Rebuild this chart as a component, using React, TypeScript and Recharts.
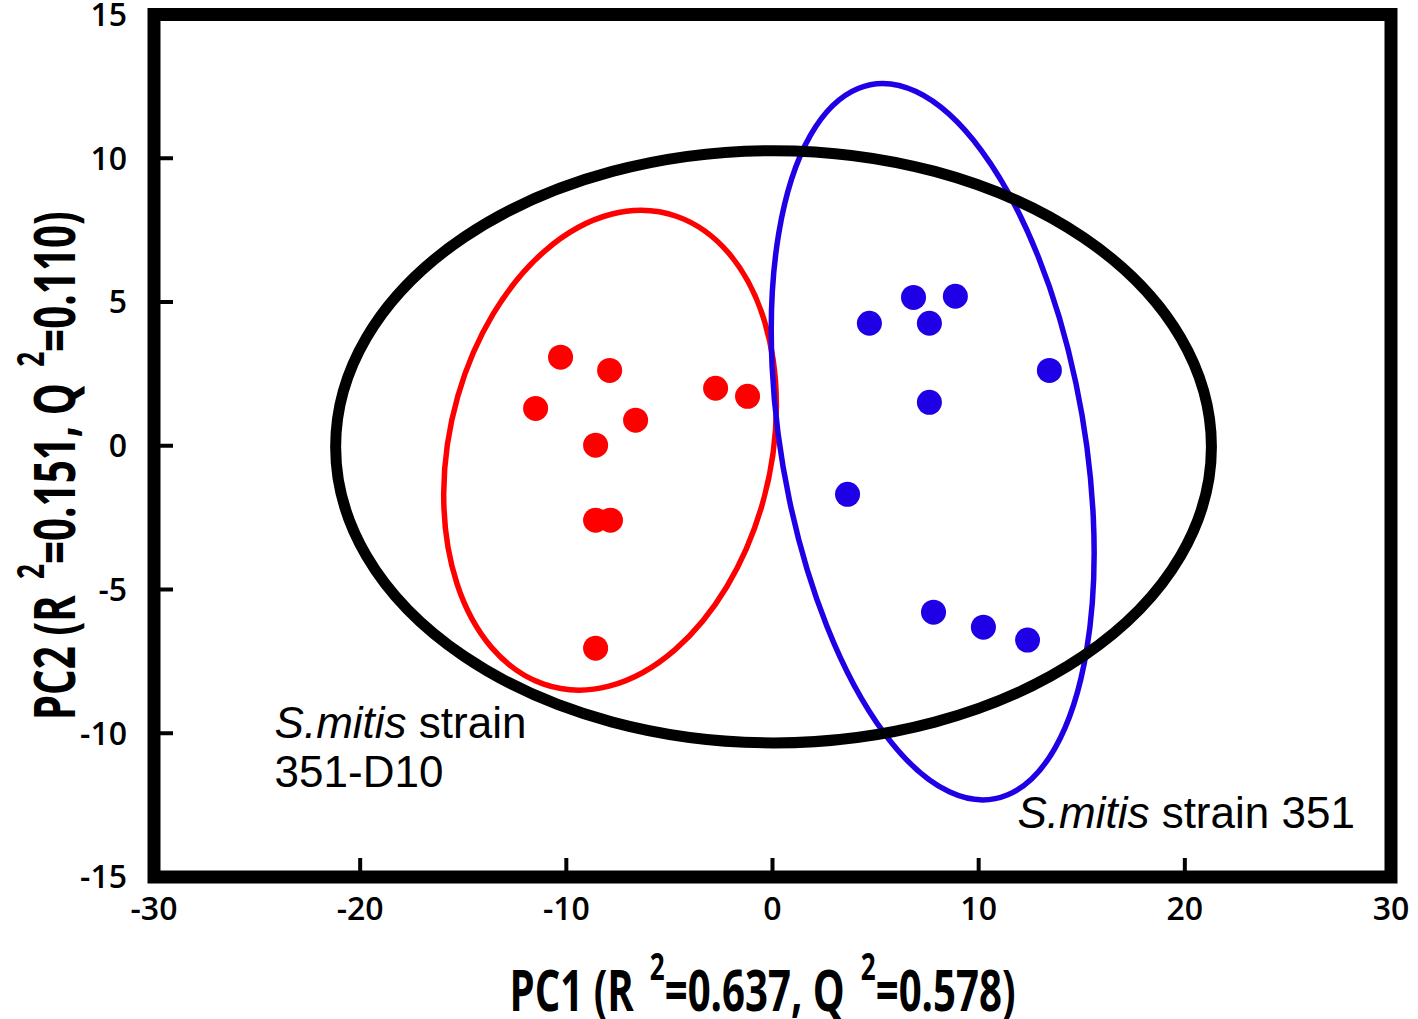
import React from "react";
import { ScatterChart, Scatter, XAxis, YAxis, ReferenceArea, ReferenceDot } from "recharts";

// axis ticks
const xTicks = [-30, -20, -10, 0, 10, 20, 30];
const yTicks = [-15, -10, -5, 0, 5, 10, 15];

// S.mitis strain 351-D10 (red)
const redPC1 = [-11.49, -10.28, -7.9, -6.64, -8.58, -8.58, -7.86, -8.58, -2.76, -1.21];
const redPC2 = [1.3, 3.08, 2.62, 0.89, 0.02, -2.59, -2.59, -7.04, 2.0, 1.72];

// S.mitis strain 351 (blue)
const bluePC1 = [4.7, 6.84, 7.61, 8.87, 13.43, 7.61, 3.64, 7.81, 10.23, 12.37];
const bluePC2 = [4.26, 5.16, 4.26, 5.2, 2.62, 1.51, -1.69, -5.79, -6.31, -6.76];

// confidence ellipses: 351-D10, 351, whole model (data units, angle in degrees)
const ellipseCx = [-7.88, 7.77, 0.05];
const ellipseCy = [-0.155, 0.14, -0.035];
const ellipseA = [8.95, 12.81, 21.24];
const ellipseB = [7.39, 7.24, 10.3];
const ellipseAngle = [50.1, -73.6, 0];

const ellipseColors = ["#ff0000", "#1f00e6", "#000000"];
const ellipseWidths = [5.5, 5.5, 11];

const redData = redPC1.map((x, i) => ({ x, y: redPC2[i] }));
const blueData = bluePC1.map((x, i) => ({ x, y: bluePC2[i] }));

const tickFont = { fontFamily: "'Open Sans', sans-serif", fontSize: 32, fontWeight: 600, fill: "#000" };
const titleFont = "'Open Sans', sans-serif";
const annoFont = "'Liberation Sans', Arial, sans-serif";

const dot = (color: string) => (p: any) => <circle cx={p.cx} cy={p.cy} r={12.5} fill={color} />;

// area spans +-1 unit around the centre, so its pixel size gives the scale
const ellipseShape = (i: number) => (p: any) => {
  const sx = p.width / 2;
  const sy = p.height / 2;
  const px = p.x + sx;
  const py = p.y + sy;
  return (
    <ellipse
      cx={0}
      cy={0}
      rx={ellipseA[i]}
      ry={ellipseB[i]}
      transform={`translate(${px},${py}) scale(${sx},${-sy}) rotate(${ellipseAngle[i]})`}
      fill="none"
      stroke={ellipseColors[i]}
      strokeWidth={ellipseWidths[i]}
      vectorEffect="non-scaling-stroke"
    />
  );
};

const XTitle = (props: any) => {
  const vb = props.viewBox;
  const cx = vb.x + vb.width / 2 - 10;
  return (
    <text x={cx} y={vb.y + 134} textAnchor="middle" fontFamily={titleFont} fontWeight={700} fontSize={57}
      textLength={506} lengthAdjust="spacingAndGlyphs" fill="#000">
      <tspan>PC1 (R </tspan>
      <tspan fontSize={37} dx={8} dy={-31}>2</tspan>
      <tspan dy={31}>=0.637, Q </tspan>
      <tspan fontSize={37} dx={8} dy={-31}>2</tspan>
      <tspan dy={31}>=0.578)</tspan>
    </text>
  );
};

const YTitle = (props: any) => {
  const vb = props.viewBox;
  const x = vb.x + 75;
  const y = vb.y + vb.height / 2 + 20;
  return (
    <text x={x} y={y} transform={`rotate(-90, ${x}, ${y})`} textAnchor="middle" fontFamily={titleFont}
      fontWeight={700} fontSize={57} textLength={509} lengthAdjust="spacingAndGlyphs" fill="#000">
      <tspan>PC2 (R </tspan>
      <tspan fontSize={37} dx={8} dy={-31}>2</tspan>
      <tspan dy={31}>=0.151, Q </tspan>
      <tspan fontSize={37} dx={8} dy={-31}>2</tspan>
      <tspan dy={31}>=0.110)</tspan>
    </text>
  );
};

const LeftNote = (props: any) => {
  const vb = props.viewBox;
  return (
    <text x={vb.x} y={vb.y} fontFamily={annoFont} fontSize={44} fill="#000">
      <tspan fontStyle="italic">S.mitis</tspan>
      <tspan>{" strain"}</tspan>
      <tspan x={vb.x} dy={49}>351-D10</tspan>
    </text>
  );
};

const RightNote = (props: any) => {
  const vb = props.viewBox;
  return (
    <text x={vb.x} y={vb.y} fontFamily={annoFont} fontSize={44} fill="#000">
      <tspan fontStyle="italic">S.mitis</tspan>
      <tspan>{" strain 351"}</tspan>
    </text>
  );
};

const noTick = () => <g />;

export default function App() {
  return (
    <div style={{ position: "absolute", left: 0, top: 0, background: "#fff" }}>
      <ScatterChart width={1418} height={1019} margin={{ top: 0, right: 0, bottom: 0, left: 0 }}>
        <XAxis
          type="number"
          dataKey="x"
          domain={[-30, 30]}
          ticks={xTicks}
          interval={0}
          height={142}
          axisLine={false}
          tickSize={-19}
          tickMargin={39}
          tickLine={{ stroke: "#000", strokeWidth: 4 }}
          tick={tickFont}
          label={<XTitle />}
        />
        <XAxis
          xAxisId="top"
          orientation="top"
          type="number"
          domain={[-30, 30]}
          ticks={xTicks}
          interval={0}
          height={14.5}
          axisLine={false}
          tickSize={-19}
          tickLine={{ stroke: "#000", strokeWidth: 4 }}
          tick={noTick}
        />
        <YAxis
          type="number"
          dataKey="y"
          domain={[-15, 15]}
          ticks={yTicks}
          interval={0}
          width={154}
          axisLine={false}
          tickSize={-19}
          tickMargin={46}
          tickLine={{ stroke: "#000", strokeWidth: 4 }}
          tick={tickFont}
          label={<YTitle />}
        />
        <YAxis
          yAxisId="right"
          orientation="right"
          type="number"
          domain={[-15, 15]}
          ticks={yTicks}
          interval={0}
          width={27}
          axisLine={false}
          tickSize={-19}
          tickLine={{ stroke: "#000", strokeWidth: 4 }}
          tick={noTick}
        />
        {ellipseCx.map((cx, i) => (
          <ReferenceArea
            key={i}
            x1={cx - 1}
            x2={cx + 1}
            y1={ellipseCy[i] - 1}
            y2={ellipseCy[i] + 1}
            shape={ellipseShape(i)}
          />
        ))}
        <Scatter data={redData} fill="#ff0000" shape={dot("#ff0000")} isAnimationActive={false} />
        <Scatter data={blueData} fill="#1f00e6" shape={dot("#1f00e6")} isAnimationActive={false} />
        <ReferenceArea x1={-30} x2={30} y1={-15} y2={15} fill="none" fillOpacity={0} stroke="#000" strokeWidth={13} />
        <ReferenceDot x={-24.15} y={-10.17} r={0} fill="none" stroke="none" label={<LeftNote />} />
        <ReferenceDot x={11.88} y={-13.3} r={0} fill="none" stroke="none" label={<RightNote />} />
      </ScatterChart>
    </div>
  );
}
